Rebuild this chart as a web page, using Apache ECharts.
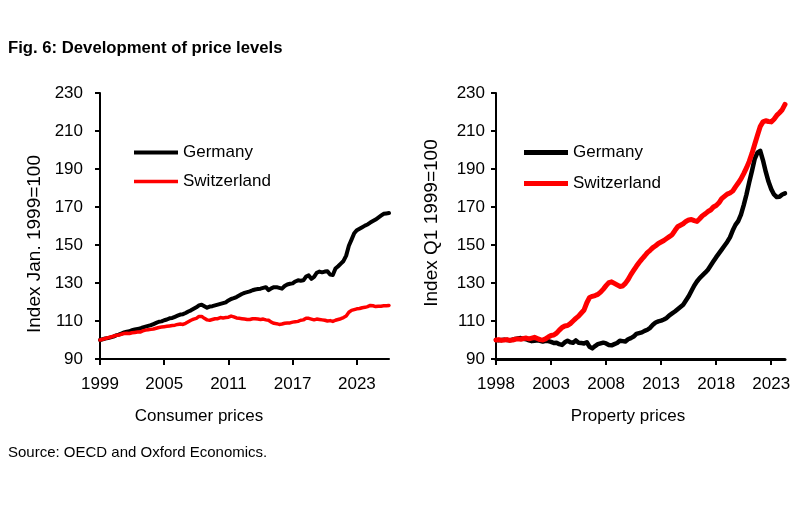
<!DOCTYPE html>
<html>
<head>
<meta charset="utf-8">
<script src="https://cdn.jsdelivr.net/npm/echarts@6/dist/echarts.min.js"></script>
<style>html,body{margin:0;padding:0;background:#fff}#c{width:800px;height:507px}</style>
</head>
<body>
<div id="c"></div>
<script>
// ---- Data (quarterly, index) ----
const cpiStart = 1999;           // first quarter of consumer price series
const propStart = 1998;          // first quarter of property price series
const cpiTicks = [1999, 2005, 2011, 2017, 2023];
const propTicks = [1998, 2003, 2008, 2013, 2018, 2023];
const yTicks = [90, 110, 130, 150, 170, 190, 210, 230];
const seriesNames = ['Germany', 'Switzerland'];

const cpiGermany = [
  100.0,100.4,100.8,101.0, 101.4,101.8,102.4,102.8, 103.4,104.0,104.4,104.6, 105.2,105.6,105.8,106.0,
  106.6,107.0,107.4,107.8, 108.4,109.0,109.6,109.8, 110.4,110.8,111.4,111.6, 112.2,112.8,113.4,113.6,
  114.2,115.0,115.6,116.4, 117.2,118.2,118.6,117.8, 117.0,117.6,117.8,118.2, 118.6,119.0,119.4,119.8,
  120.8,121.6,122.0,122.6, 123.4,124.2,124.8,125.2, 125.6,126.2,126.6,126.8, 127.0,127.4,127.8,126.2,
  127.2,127.8,127.8,127.4, 127.0,128.4,129.2,129.6, 129.8,130.8,131.4,131.2, 131.4,133.4,134.0,132.2,
  133.2,135.4,136.0,135.6, 136.0,136.2,134.4,134.2, 137.6,138.8,140.2,141.6, 144.4,149.6,152.8,156.2,
  157.8,158.6,159.4,160.2, 160.8,161.8,162.6,163.4, 164.4,165.4,166.4,166.6, 166.8
];
const cpiSwitzerland = [
  100.0,100.4,100.8,101.2, 101.6,102.0,102.4,102.6, 103.0,103.4,103.6,103.4, 103.8,104.0,104.2,104.2,
  104.8,105.2,105.4,105.6, 105.8,106.2,106.6,106.8, 107.0,107.2,107.4,107.6, 107.8,108.2,108.4,108.2,
  108.8,109.6,110.4,111.0, 111.4,112.4,112.4,111.4, 110.6,110.4,110.8,111.2, 111.2,111.8,111.6,111.8,
  112.0,112.6,112.2,111.6, 111.4,111.2,111.0,110.8, 110.8,111.2,111.2,111.0, 110.8,111.0,110.6,110.4,
  109.4,108.8,108.6,108.2, 108.4,108.8,109.0,109.0, 109.4,109.6,109.8,110.4, 110.6,111.4,111.4,111.0,
  110.6,111.0,110.8,110.6, 110.4,110.0,110.2,109.8, 110.4,110.8,111.2,111.8, 112.6,114.6,115.6,116.0,
  116.4,116.6,117.0,117.2, 117.6,118.2,118.0,117.6, 117.8,117.8,118.0,118.0, 118.2
];
const propGermany = [
  100.0,99.8,100.0,100.2, 100.0,99.8,100.2,100.6, 100.8,101.0,100.6,100.4, 99.8,99.4,99.6,99.8,
  99.6,99.2,99.6,99.4, 99.0,98.4,98.6,97.8, 97.4,98.8,99.6,98.8, 98.6,99.8,98.6,98.4,
  98.2,98.8,96.4,95.6, 96.8,97.8,98.2,98.6, 98.2,97.4,97.2,97.8, 98.4,99.6,99.4,99.2,
  100.4,101.0,101.8,103.2, 103.6,104.0,104.8,105.4, 106.4,108.0,109.2,109.8, 110.2,110.8,111.6,113.0,
  114.0,115.0,116.2,117.4, 118.6,120.8,123.0,125.8, 128.6,130.8,132.6,134.0, 135.4,137.0,139.2,141.4,
  143.6,145.6,147.6,149.6, 151.6,154.0,157.6,160.6, 162.6,166.0,171.0,176.6, 183.0,189.0,195.4,198.6,
  199.6,194.6,188.6,183.4, 179.4,176.6,175.2,175.4, 176.6,177.2
];
const propSwitzerland = [
  100.0,100.2,99.8,100.0, 100.2,99.8,100.0,100.4, 100.6,100.4,100.8,101.0, 100.6,101.0,101.4,100.8,
  100.2,100.0,100.6,101.6, 102.4,102.6,103.6,105.2, 106.6,107.4,107.6,108.6, 110.0,111.4,112.6,114.2,
  115.8,119.6,122.4,123.0, 123.4,124.0,125.2,126.8, 128.6,130.2,130.6,129.8, 129.0,128.2,128.4,129.8,
  131.8,134.4,136.6,138.8, 140.8,142.6,144.2,146.0, 147.2,148.6,149.6,150.8, 151.6,152.4,153.4,154.4,
  155.4,157.6,159.6,160.4, 161.2,162.4,163.2,163.4, 162.8,162.4,163.8,165.4, 166.4,167.6,168.4,170.0,
  170.8,172.2,174.4,175.6, 176.8,177.4,178.4,180.6, 182.6,184.8,187.6,190.6, 194.0,198.2,203.0,207.8,
  212.4,214.8,215.4,215.0, 214.8,216.2,218.2,219.6, 221.2,224.0
];

// ---- Chart ----
const FONT = '"Liberation Sans", Arial, sans-serif';
const toPairs = (arr, start) => arr.map((v, i) => [start + i / 4, v]);

function xAxisCfg(gridIndex, min, max, ticks, lw) {
  return {
    type: 'value', gridIndex, min, max,
    splitLine: { show: false },
    axisLine: { show: true, onZero: false, lineStyle: { color: '#000', width: lw } },
    axisTick: { show: true, length: 6, customValues: ticks, lineStyle: { color: '#000', width: 2 } },
    axisLabel: { customValues: ticks, formatter: v => String(v), margin: 17,
      fontFamily: FONT, fontSize: 17, color: '#000' }
  };
}
function yAxisCfg(gridIndex, margin) {
  return {
    type: 'value', gridIndex, min: 90, max: 230,
    splitLine: { show: false },
    axisLine: { show: true, onZero: false, lineStyle: { color: '#000', width: 2 } },
    axisTick: { show: true, length: 5, customValues: yTicks, lineStyle: { color: '#000', width: 2 } },
    axisLabel: { customValues: yTicks, formatter: v => String(v), margin,
      fontFamily: FONT, fontSize: 17, color: '#000' }
  };
}
function legendCfg(name, left, top, h) {
  return {
    data: [name], left, top, icon: 'rect', itemWidth: 44, itemHeight: h,
    selectedMode: false, padding: 0,
    itemStyle: { borderWidth: 0 },
    textStyle: { fontFamily: FONT, fontSize: 17, color: '#000', padding: [0, 0, 0, 0] }
  };
}
function lineSeries(name, color, width, xi, data, start) {
  return {
    type: 'line', name, xAxisIndex: xi, yAxisIndex: xi,
    data: toPairs(data, start), showSymbol: false, symbol: 'none',
    color, lineStyle: { color, width, join: 'round', cap: 'round' },
    animation: false
  };
}

const chart = echarts.init(document.getElementById('c'), null, { renderer: 'canvas' });
chart.setOption({
  animation: false,
  backgroundColor: '#fff',
  grid: [
    { left: 100, top: 93, width: 289, height: 266 },
    { left: 496, top: 93, width: 289, height: 266 }
  ],
  xAxis: [
    xAxisCfg(0, cpiStart, 2026, cpiTicks, 2),
    xAxisCfg(1, propStart, 2024.25, propTicks, 3)
  ],
  yAxis: [yAxisCfg(0, 17), yAxisCfg(1, 11)],
  legend: [
    legendCfg(seriesNames[0], 134, 144, 4),
    legendCfg(seriesNames[1], 134, 173, 3.5),
    legendCfg(seriesNames[0], 524, 144, 5),
    legendCfg(seriesNames[1], 524, 175, 5)
  ],
  series: [
    lineSeries(seriesNames[0], '#000000', 4, 0, cpiGermany, cpiStart),
    lineSeries(seriesNames[1], '#FF0000', 3.5, 0, cpiSwitzerland, cpiStart),
    lineSeries(seriesNames[0], '#000000', 4.5, 1, propGermany, propStart),
    lineSeries(seriesNames[1], '#FF0000', 5, 1, propSwitzerland, propStart)
  ],
  graphic: [
    { type: 'text', left: 8, top: 40, style: { text: 'Fig. 6: Development of price levels',
      font: 'bold 16.7px ' + FONT, fill: '#000' } },
    { type: 'text', x: 35, y: 244, rotation: Math.PI / 2, style: { text: 'Index Jan. 1999=100',
      font: '19px ' + FONT, fill: '#000', align: 'center', verticalAlign: 'middle' } },
    { type: 'text', x: 432, y: 223, rotation: Math.PI / 2, style: { text: 'Index Q1 1999=100',
      font: '19px ' + FONT, fill: '#000', align: 'center', verticalAlign: 'middle' } },
    { type: 'text', x: 199, y: 416, style: { text: 'Consumer prices',
      font: '17px ' + FONT, fill: '#000', align: 'center', verticalAlign: 'middle' } },
    { type: 'text', x: 628, y: 416, style: { text: 'Property prices',
      font: '17px ' + FONT, fill: '#000', align: 'center', verticalAlign: 'middle' } },
    { type: 'text', x: 8, y: 453, style: { text: 'Source: OECD and Oxford Economics.',
      font: '15px ' + FONT, fill: '#000', align: 'left', verticalAlign: 'middle' } }
  ]
});
</script>
</body>
</html>
